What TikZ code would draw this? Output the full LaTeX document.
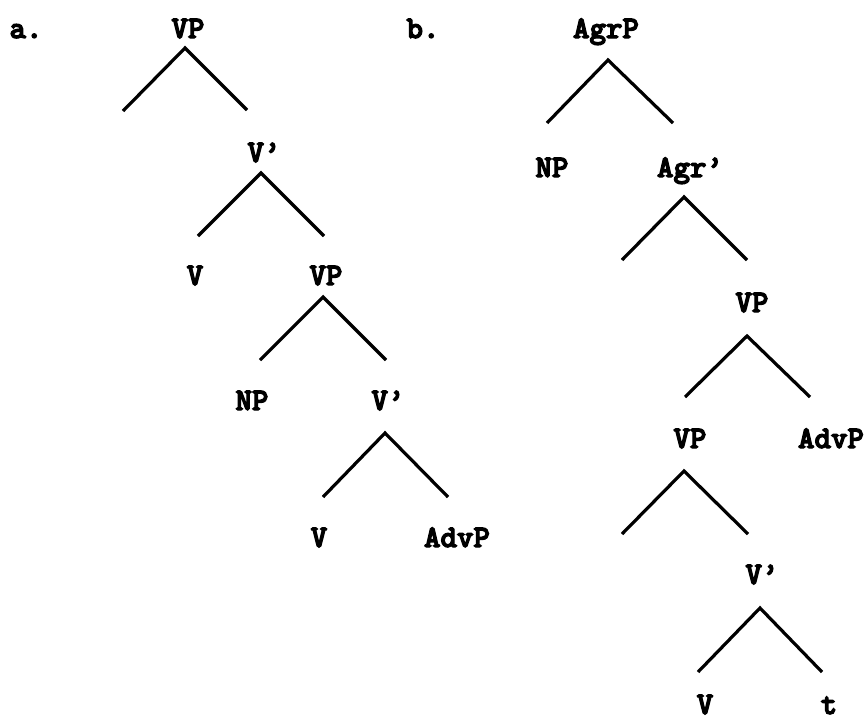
\documentclass[tikz,border=0pt]{standalone}
\usepackage{fontspec}
\newfontfamily\treefont{lmmonolt10-bold.otf}[FakeBold=4]

\tikzset{
  lbl/.style={anchor=base, inner sep=0pt, font=\fontsize{15.7}{18}\selectfont\treefont},
  branch/.style={line width=1.6pt, line join=miter}
}

\begin{document}
\begin{tikzpicture}[x=0.5pt,y=0.5pt,yscale=-1,xscale=1]
		% Fix the picture size to the page
		\useasboundingbox (0,0) rectangle (867,719);

		% Tree a: the labels
		\node[lbl] (taga) at (26,38) {a.};
		\node[lbl] (vpa) at (188,38) {VP};
		\node[lbl] (vbara) at (264,162) {V’};
		\node[lbl] (va) at (195,285) {V};
		\node[lbl] (vpb) at (326,285) {VP};
		\node[lbl] (npa) at (252,410) {NP};
		\node[lbl] (vbarb) at (388,410) {V’};
		\node[lbl] (vb) at (319,547) {V};
		\node[lbl] (advpa) at (457,547) {AdvP};

		% Tree a: the branch points
		\coordinate (vpa-top) at (185,48);
		\coordinate (vpa-l) at (123,111);
		\coordinate (vpa-r) at (247,110);
		\coordinate (vbara-top) at (261,173);
		\coordinate (vbara-l) at (198,236);
		\coordinate (vbara-r) at (324,236);
		\coordinate (vpb-top) at (323,297);
		\coordinate (vpb-l) at (260,360);
		\coordinate (vpb-r) at (386,360);
		\coordinate (vbarb-top) at (385,433);
		\coordinate (vbarb-l) at (323,497);
		\coordinate (vbarb-r) at (448,497);

		% Tree a: the branches
		\draw[branch] (vpa-l) -- (vpa-top) -- (vpa-r);
		\draw[branch] (vbara-l) -- (vbara-top) -- (vbara-r);
		\draw[branch] (vpb-l) -- (vpb-top) -- (vpb-r);
		\draw[branch] (vbarb-l) -- (vbarb-top) -- (vbarb-r);

		% Tree b: the labels
		\node[lbl] (tagb) at (423,38) {b.};
		\node[lbl] (agrp) at (606,38) {AgrP};
		\node[lbl] (npb) at (552,177) {NP};
		\node[lbl] (agrbar) at (690,177) {Agr’};
		\node[lbl] (vpc) at (752,312) {VP};
		\node[lbl] (vpd) at (690,448) {VP};
		\node[lbl] (advpb) at (831,448) {AdvP};
		\node[lbl] (vbarc) at (762,584) {V’};
		\node[lbl] (vc) at (705,714) {V};
		\node[lbl] (trace) at (829,714) {t};

		% Tree b: the branch points
		\coordinate (agrp-top) at (608,60);
		\coordinate (agrp-l) at (547,123);
		\coordinate (agrp-r) at (673,123);
		\coordinate (agrbar-top) at (684,197);
		\coordinate (agrbar-l) at (622,260);
		\coordinate (agrbar-r) at (747,260);
		\coordinate (vpc-top) at (747,336);
		\coordinate (vpc-l) at (685,397);
		\coordinate (vpc-r) at (810,397);
		\coordinate (vpd-top) at (684,471);
		\coordinate (vpd-l) at (622,534);
		\coordinate (vpd-r) at (748,534);
		\coordinate (vbarc-top) at (760,608);
		\coordinate (vbarc-l) at (698,672);
		\coordinate (vbarc-r) at (822,672);

		% Tree b: the branches
		\draw[branch] (agrp-l) -- (agrp-top) -- (agrp-r);
		\draw[branch] (agrbar-l) -- (agrbar-top) -- (agrbar-r);
		\draw[branch] (vpc-l) -- (vpc-top) -- (vpc-r);
		\draw[branch] (vpd-l) -- (vpd-top) -- (vpd-r);
		\draw[branch] (vbarc-l) -- (vbarc-top) -- (vbarc-r);
	\end{tikzpicture}
\end{document}
